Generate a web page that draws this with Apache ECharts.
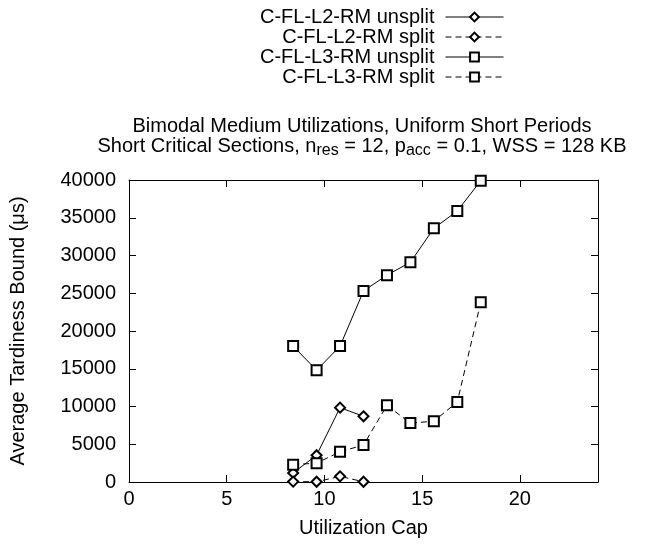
<!DOCTYPE html>
<html>
<head>
<meta charset="utf-8">
<script src="https://cdn.jsdelivr.net/npm/echarts@6/dist/echarts.min.js"></script>
<style>html,body{margin:0;padding:0;background:#fff}#c{width:648px;height:548px}</style>
</head>
<body>
<div id="c"></div>
<script>
var xUtil = [8.4, 9.6, 10.8, 12.0, 13.2, 14.4, 15.6, 16.8, 18.0];
var l2Unsplit = [1200, 3550, 9850, 8700];
var l2Split = [50, 30, 750, 30];
var l3Unsplit = [18000, 14800, 18000, 25300, 27400, 29100, 33600, 35900, 39900];
var l3Split = [2300, 2500, 4000, 4900, 10150, 7800, 8050, 10600, 23800];
var seriesNames = ['C-FL-L2-RM unsplit', 'C-FL-L2-RM split', 'C-FL-L3-RM unsplit', 'C-FL-L3-RM split'];

function pairs(vals) { return vals.map(function (v, i) { return [xUtil[i], v]; }); }

var FONT = 'Liberation Sans';
var FS = 20;
var chart = echarts.init(document.getElementById('c'), null, { renderer: 'canvas' });

function mk(name, vals, symbol, dashed) {
  return {
    name: name, type: 'line', data: pairs(vals),
    symbol: symbol, symbolSize: 10,
    showAllSymbol: true,
    lineStyle: { color: '#000', width: 1, type: dashed ? [6, 4] : 'solid' },
    itemStyle: { color: '#000', borderColor: '#000', borderWidth: 1 },
    emphasis: { disabled: true },
    animation: false
  };
}

chart.setOption({
  animation: false,
  textStyle: { fontFamily: FONT },
  title: {
    text: '{l1|Bimodal Medium Utilizations, Uniform Short Periods}\n{l2|Short Critical Sections, n}{sub|res}{l2| = 12, p}{sub|acc}{l2| = 0.1, WSS = 128 KB}',
    left: 362, top: 117, textAlign: 'center', padding: 0,
    textStyle: {
      fontFamily: FONT, fontSize: FS, fontWeight: 'normal', color: '#000', lineHeight: 19.5,
      rich: {
        l1: { fontFamily: FONT, fontSize: FS, color: '#000', lineHeight: 19.5 },
        l2: { fontFamily: FONT, fontSize: FS, color: '#000', lineHeight: 19.5 },
        sub: { fontFamily: FONT, fontSize: 16, color: '#000', padding: [9, 0, 0, 0] }
      }
    }
  },
  legend: {
    orient: 'vertical', align: 'right', right: 144, top: 7, padding: 0,
    itemWidth: 58, itemHeight: 11, itemGap: 0,
    data: seriesNames,
    lineStyle: { width: 1 },
    itemStyle: { borderWidth: 1 },
    textStyle: { fontFamily: FONT, fontSize: FS, color: '#000', lineHeight: 17.6, padding: [0, 6, 0, 0] },
    selectedMode: false
  },
  grid: { left: 129, right: 50, top: 180, bottom: 66 },
  xAxis: [{
    type: 'value', min: 0, max: 24, interval: 5,
    name: 'Utilization Cap', nameLocation: 'middle', nameGap: 36,
    nameTextStyle: { fontFamily: FONT, fontSize: FS, color: '#000' },
    axisLine: { show: true, lineStyle: { color: '#000', width: 1 } },
    axisTick: { inside: true, length: 7, lineStyle: { color: '#000' } },
    axisLabel: { fontFamily: FONT, fontSize: FS, color: '#000', margin: 7, showMaxLabel: false },
    splitLine: { show: false }
  }, {
    type: 'value', min: 0, max: 24, interval: 5, position: 'top',
    axisLine: { show: true, onZero: false, lineStyle: { color: '#000', width: 1 } },
    axisTick: { inside: true, length: 7, lineStyle: { color: '#000' } },
    axisLabel: { show: false }, splitLine: { show: false }
  }],
  yAxis: [{
    type: 'value', min: 0, max: 40000, interval: 5000,
    name: 'Average Tardiness Bound (\u03bcs)', nameLocation: 'middle', nameGap: 101,
    nameTextStyle: { fontFamily: FONT, fontSize: FS, color: '#000' },
    axisLine: { show: true, lineStyle: { color: '#000', width: 1 } },
    axisTick: { inside: true, length: 7, lineStyle: { color: '#000' } },
    axisLabel: { fontFamily: FONT, fontSize: FS, color: '#000', margin: 13, formatter: function (v) { return String(v); } },
    splitLine: { show: false }
  }, {
    type: 'value', min: 0, max: 40000, interval: 5000, position: 'right',
    axisLine: { show: true, onZero: false, lineStyle: { color: '#000', width: 1 } },
    axisTick: { inside: true, length: 7, lineStyle: { color: '#000' } },
    axisLabel: { show: false }, splitLine: { show: false }
  }],
  series: [
    mk(seriesNames[0], l2Unsplit, 'emptyDiamond', false),
    mk(seriesNames[1], l2Split, 'emptyDiamond', true),
    mk(seriesNames[2], l3Unsplit, 'emptyRect', false),
    mk(seriesNames[3], l3Split, 'emptyRect', true)
  ]
});
</script>
</body>
</html>
